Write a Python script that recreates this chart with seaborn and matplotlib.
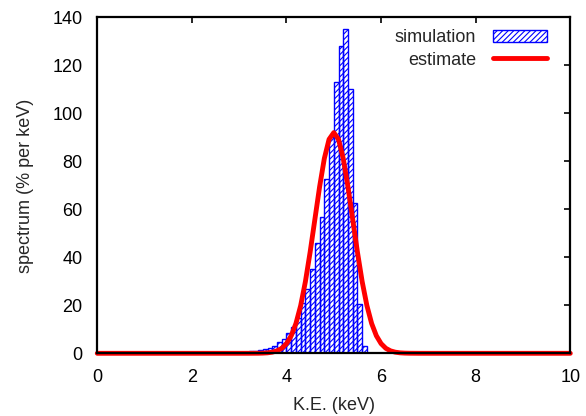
import numpy as np
import pandas as pd
import matplotlib
matplotlib.use("Agg")
import matplotlib.pyplot as plt
import matplotlib.patches as mpatches
import matplotlib.lines as mlines
import seaborn as sns

# --- data ---
bin_left = [3.0, 3.1, 3.2, 3.3, 3.4, 3.5, 3.6, 3.7, 3.8, 3.9,
            4.0, 4.1, 4.2, 4.3, 4.4, 4.5, 4.6, 4.7, 4.8, 4.9,
            5.0, 5.1, 5.2, 5.3, 5.4, 5.5, 5.6]
sim_values = [0.3, 0.5, 0.8, 1.1, 1.5, 2.0, 2.4, 3.2, 4.6, 6.0,
              8.3, 10.8, 14.9, 20.8, 26.7, 35.0, 46.0, 57.0, 72.8, 90.0,
              113.0, 128.0, 135.0, 110.0, 62.6, 20.7, 2.9]
bin_width = 0.1

est_x = [0.0, 3.0, 3.2, 3.4, 3.5, 3.6, 3.7, 3.8, 3.9, 4.0, 4.1, 4.2, 4.3,
         4.4, 4.5, 4.6, 4.7, 4.8, 4.9, 5.0, 5.1, 5.2, 5.3, 5.4, 5.5, 5.6,
         5.7, 5.8, 5.9, 6.0, 6.1, 6.2, 6.3, 6.4, 6.5, 6.6, 6.8, 7.0, 10.0]
est_y = [0.0, 0.0, 0.004, 0.031, 0.082, 0.20, 0.47, 1.02, 2.09, 4.04, 7.32,
         12.45, 19.9, 29.9, 42.2, 55.8, 69.4, 81.2, 89.2, 92.0, 89.2, 81.2,
         69.4, 55.8, 42.2, 29.9, 19.9, 12.45, 7.32, 4.04, 2.09, 1.02, 0.47,
         0.20, 0.082, 0.031, 0.004, 0.0, 0.0]

x_ticks = [0, 2, 4, 6, 8, 10]
y_ticks = [0, 20, 40, 60, 80, 100, 120, 140]
legend_labels = ["simulation", "estimate"]

# --- styling ---
sns.set_style("white")
plt.rcParams["font.family"] = ["Liberation Sans", "DejaVu Sans"]
plt.rcParams["hatch.color"] = "blue"
plt.rcParams["hatch.linewidth"] = 0.8

FS = 13

fig = plt.figure(figsize=(5.86, 4.16), dpi=100)
ax = fig.add_axes([0.166, 0.1507, 0.8072, 0.8073])

df = pd.DataFrame({"x": np.array(bin_left) + bin_width / 2, "w": sim_values})
edges = list(bin_left) + [bin_left[-1] + bin_width]
sns.histplot(data=df, x="x", weights="w", bins=edges, stat="count",
             fill=False, element="bars", color="blue", linewidth=1.0,
             hatch="//////", ax=ax, zorder=2)

sns.lineplot(x=est_x, y=est_y, color="red", linewidth=3.5, ax=ax,
             zorder=3, clip_on=False, sort=False)

ax.set_xlim(0, 10)
ax.set_ylim(0, 140)
ax.set_xticks(x_ticks)
ax.set_yticks(y_ticks)
ax.tick_params(direction="in", length=4, width=1.2, top=True, right=True,
               labelsize=FS, colors="black")
ax.tick_params(axis="x", pad=11)
ax.tick_params(axis="y", pad=10.5)
for s in ax.spines.values():
    s.set_linewidth(1.6)
    s.set_color("black")
    s.set_zorder(4)

ax.set_xlabel("K.E. (keV)", fontsize=FS, labelpad=8)
ax.set_ylabel("spectrum (% per keV)", fontsize=FS, labelpad=13)

h1 = mpatches.Patch(facecolor="white", edgecolor="blue", hatch="//////",
                    linewidth=1.0)
h2 = mlines.Line2D([], [], color="red", linewidth=3.5)
ax.legend([h1, h2], legend_labels, loc="upper right", frameon=False,
          markerfirst=False, fontsize=FS, handlelength=3.0,
          handletextpad=0.9, labelspacing=0.3,
          bbox_to_anchor=(0.975, 1.0), borderaxespad=0.25)

fig.savefig("out.png", dpi=100)
